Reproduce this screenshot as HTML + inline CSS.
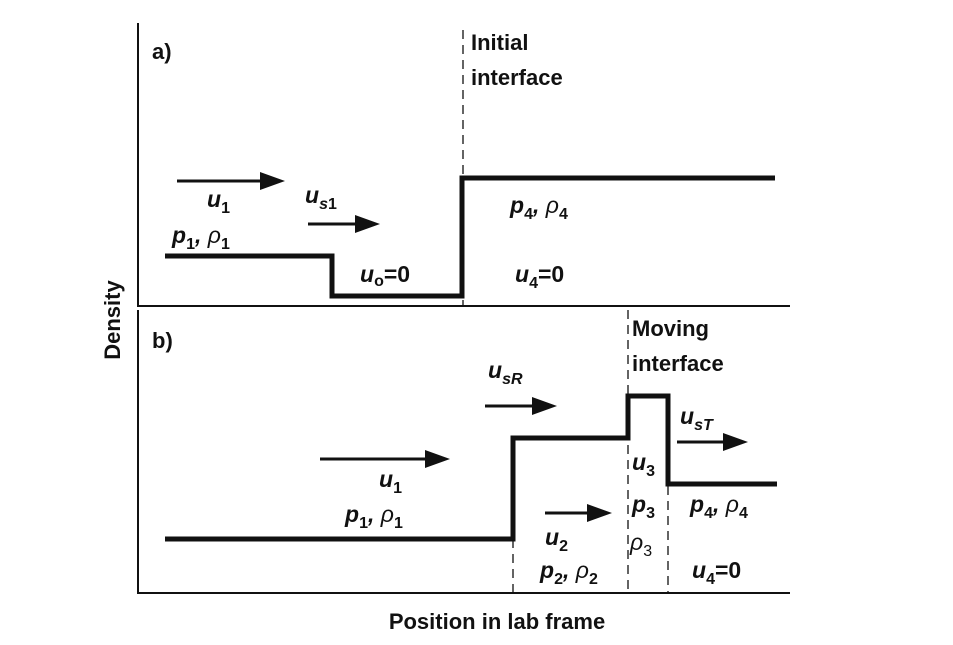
<!DOCTYPE html>
<html><head><style>html,body{margin:0;padding:0;background:#fff}svg{display:block}
text{font-family:"Liberation Sans",sans-serif;font-weight:bold;fill:#111}
.l{font-size:22px}.v{font-size:23px;font-style:italic}.s{font-size:16px;font-style:normal}.si{font-size:16px;font-style:italic}.r{font-weight:normal;font-style:italic}
</style></head><body>
<svg width="953" height="645" viewBox="0 0 953 645" xmlns="http://www.w3.org/2000/svg">
<defs><marker id="a" markerWidth="10" markerHeight="8" refX="9" refY="4" orient="auto" markerUnits="userSpaceOnUse"><path d="M0,0 L10,4 L0,8Z" fill="#111"/></marker></defs>
<g stroke="#111" fill="none">
<path d="M138,23 V306 H790" stroke-width="2"/>
<path d="M138,310 V593 H790" stroke-width="2"/>
<path d="M165,256 H332 V296 H462 V178 H775" stroke-width="5"/>
<path d="M165,539 H513 V438 H628 V396 H668 V484 H777" stroke-width="5"/>
<g stroke-width="1.3" stroke-dasharray="9,6">
<path d="M463,30 V306"/><path d="M513,539 V593"/><path d="M628,310 V593"/><path d="M668,396 V593"/>
</g>
<g stroke-width="3">
<path d="M177,181 H275" /><path d="M308,224 H370"/><path d="M485,406 H547"/><path d="M320,459 H440"/><path d="M545,513 H602"/><path d="M677,442 H738"/>
</g>
</g>
<g fill="#111">
<path d="M285,181 L260,172 V190Z"/><path d="M380,224 L355,215 V233Z"/><path d="M557,406 L532,397 V415Z"/><path d="M450,459 L425,450 V468Z"/><path d="M612,513 L587,504 V522Z"/><path d="M748,442 L723,433 V451Z"/>
</g>
<text class="l" x="152" y="59" font-size="20">a)</text>
<text class="l" x="471" y="50">Initial</text>
<text class="l" x="471" y="85">interface</text>
<text class="v" x="207" y="207">u<tspan class="s" dy="6">1</tspan></text>
<text class="v" x="172" y="243">p<tspan class="s" dy="6">1</tspan><tspan dy="-6">,</tspan><tspan class="r"> ρ</tspan><tspan class="s" dy="6">1</tspan></text>
<text class="v" x="305" y="203">u<tspan class="si" dy="6">s</tspan><tspan class="s">1</tspan></text>
<text class="v" x="510" y="213">p<tspan class="s" dy="6">4</tspan><tspan dy="-6">,</tspan><tspan class="r"> ρ</tspan><tspan class="s" dy="6">4</tspan></text>
<text class="v" x="360" y="282">u<tspan class="s" dy="4">o</tspan><tspan dy="-4" font-style="normal">=0</tspan></text>
<text class="v" x="515" y="282">u<tspan class="s" dy="6">4</tspan><tspan dy="-6" font-style="normal">=0</tspan></text>
<text class="l" x="152" y="348" font-size="20">b)</text>
<text class="l" x="632" y="336">Moving</text>
<text class="l" x="632" y="371">interface</text>
<text class="v" x="488" y="378">u<tspan class="si" dy="6">sR</tspan></text>
<text class="v" x="379" y="487">u<tspan class="s" dy="6">1</tspan></text>
<text class="v" x="345" y="522">p<tspan class="s" dy="6">1</tspan><tspan dy="-6">,</tspan><tspan class="r"> ρ</tspan><tspan class="s" dy="6">1</tspan></text>
<text class="v" x="545" y="545">u<tspan class="s" dy="6">2</tspan></text>
<text class="v" x="540" y="578">p<tspan class="s" dy="6">2</tspan><tspan dy="-6">,</tspan><tspan class="r"> ρ</tspan><tspan class="s" dy="6">2</tspan></text>
<text class="v" x="632" y="470">u<tspan class="s" dy="6">3</tspan></text>
<text class="v" x="632" y="512">p<tspan class="s" dy="6">3</tspan></text>
<text class="v r" x="630" y="550">ρ<tspan class="s" dy="6">3</tspan></text>
<text class="v" x="680" y="424">u<tspan class="si" dy="6">sT</tspan></text>
<text class="v" x="690" y="512">p<tspan class="s" dy="6">4</tspan><tspan dy="-6">,</tspan><tspan class="r"> ρ</tspan><tspan class="s" dy="6">4</tspan></text>
<text class="v" x="692" y="578">u<tspan class="s" dy="6">4</tspan><tspan dy="-6" font-style="normal">=0</tspan></text>
<text class="l" x="120" y="320" text-anchor="middle" transform="rotate(-90 120 320)">Density</text>
<text class="l" x="497" y="629" text-anchor="middle">Position in lab frame</text>
</svg>
</body></html>
